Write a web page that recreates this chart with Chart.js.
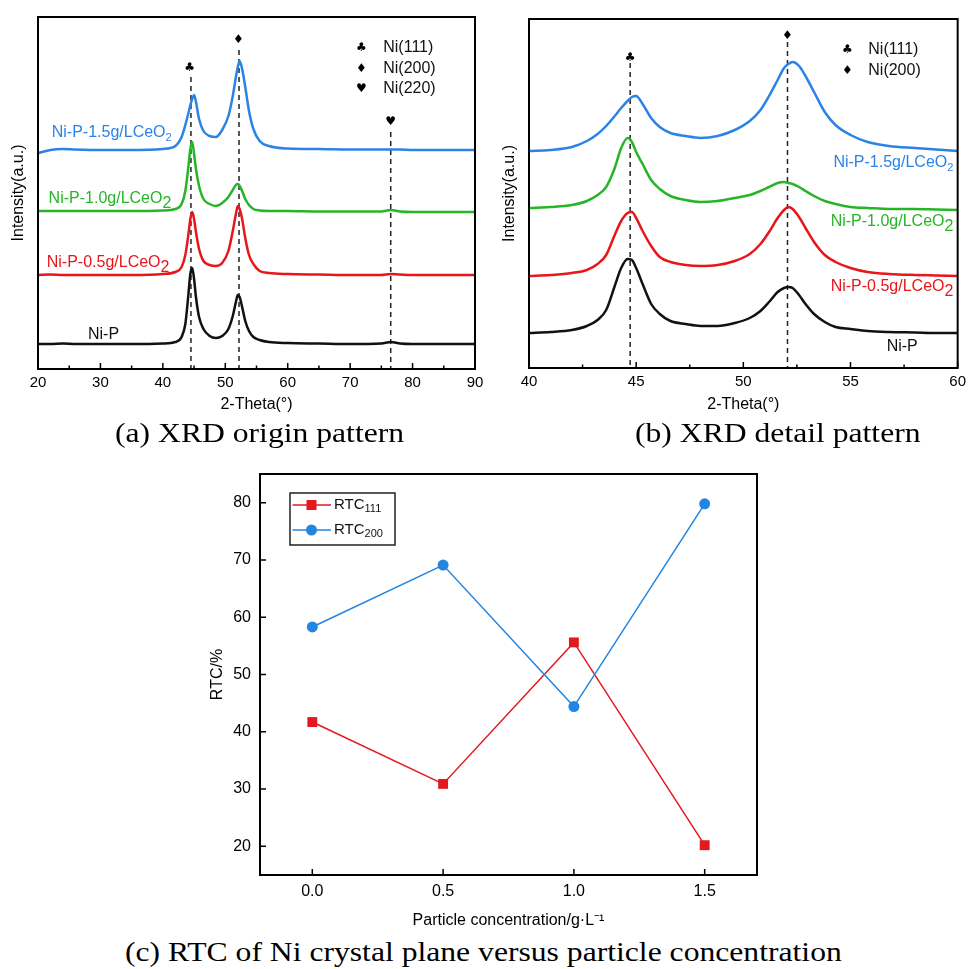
<!DOCTYPE html>
<html>
<head>
<meta charset="utf-8">
<script src="https://cdn.jsdelivr.net/npm/chart.js@4.4.1/dist/chart.umd.min.js"></script>
<style>
  html, body { margin: 0; padding: 0; background: #fff; }
  body { width: 971px; height: 969px; position: relative; overflow: hidden; }
  .panel { position: absolute; }
  .caption {
    position: absolute;
    font-family: 'Liberation Serif', 'Times New Roman', serif;
    font-size: 28px;
    line-height: 28px;
    white-space: nowrap;
    color: #000;
    transform: scaleX(1.13);
    transform-origin: left top;
  }
</style>
</head>
<body>
<div class="panel" style="left:0;top:0;width:490px;height:425px"><canvas id="chartA"></canvas></div>
<div class="panel" style="left:490px;top:0;width:481px;height:425px"><canvas id="chartB"></canvas></div>
<div class="panel" style="left:150px;top:455px;width:620px;height:480px"><canvas id="chartC"></canvas></div>
<div class="caption" style="left:115px;top:419px">(a) XRD origin pattern</div>
<div class="caption" style="left:635px;top:419px">(b) XRD detail pattern</div>
<div class="caption" style="left:125px;top:938px">(c) RTC of Ni crystal plane versus particle concentration</div>

<script>
// ---- (a) full scan, 2-theta 20..90 (intensity in arbitrary units, offset per sample) ----
const thetaA = [20, 22, 24, 26, 30, 35, 40, 42, 43, 43.6, 44.1, 44.4, 44.7, 45.0, 45.3, 45.8, 46.5, 47.5, 48.5, 49.5,
  50.5, 51.2, 51.7, 52.0, 52.3, 52.7, 53.2, 53.8, 54.5, 55.5, 57, 60, 65, 70, 75, 76.5, 78, 80, 85, 90];
const niPA = [25, 25, 25.5, 25, 25, 25, 25.5, 27, 32, 45, 75, 95, 101, 90, 72, 52, 40, 33, 31, 33,
  40, 53, 67, 74, 72, 62, 48, 38, 32, 29, 27, 26, 25.5, 25, 25.5, 27, 25.5, 25, 25, 25];
const ni05A = [94, 94.5, 94, 94, 94, 94, 95, 97, 102, 114, 135, 150, 157, 150, 137, 120, 108, 104, 103, 106,
  118, 138, 155, 163, 160, 150, 131, 114, 105, 98, 96, 95, 94.5, 94, 94, 95, 94.5, 94, 94, 94];
const ni10A = [158, 158, 158, 158, 158, 158, 158.5, 160, 165, 178, 203, 220, 227, 215, 200, 183, 170, 165, 163, 166,
  172, 179, 184, 185, 183, 178, 170, 164, 160, 158.5, 158, 158, 157.5, 157.5, 157.5, 159, 157.5, 157, 157, 157];
const ni15A = [216, 219, 220, 219.5, 219, 219, 220, 223, 232, 244, 256, 264, 270, 274, 267, 250, 238, 233, 232, 239,
  253, 273, 292, 302, 308, 300, 282, 258, 240, 228, 223, 220.5, 220, 219.5, 219.5, 219.5, 219.5, 219, 219, 219];
const ticksA = [20, 30, 40, 50, 60, 70, 80, 90];
const minorTicksA = [25, 35, 45, 55, 65, 75, 85];
const peaksA = [44.5, 52.2, 76.5];
const peakTopsA = [292, 319, 237];
const symbolsA = ['\u2663', '\u2666', '\u2665'];
const symbolPosA = [[44.3, 301], [52.1, 329], [76.5, 247]];
const legendA = ['Ni(111)', 'Ni(200)', 'Ni(220)'];
const legendRowsA = [321, 300, 280];

// ---- (b) detail scan, 2-theta 40..60 ----
const thetaB = [40, 41, 42, 42.7, 43.2, 43.6, 44.0, 44.3, 44.6, 44.8, 45.0, 45.3, 45.7, 46.1, 46.6, 47.3, 48, 48.8, 49.6, 50.3,
  50.8, 51.2, 51.6, 51.9, 52.1, 52.3, 52.6, 52.9, 53.3, 53.8, 54.3, 55, 55.8, 56.8, 58, 59, 60];
const niPB = [35, 36, 38, 42, 48, 58, 82, 100, 109, 108, 100, 84, 64, 54, 47, 44, 42, 42, 45, 50,
  57, 66, 76, 80, 81, 80, 73, 64, 54, 46, 41, 39, 37, 36, 35.5, 35, 35];
const ni05B = [92, 93, 95, 98, 104, 113, 133, 147, 155, 156, 150, 137, 122, 111, 106, 103, 102, 103, 107, 114,
  124, 136, 150, 158, 161, 159, 151, 140, 126, 113, 106, 100, 96, 94, 93, 92.5, 92];
const ni10B = [160, 161, 163, 167, 173, 181, 200, 220, 230, 226, 216, 204, 188, 179, 172, 168, 166, 167, 170, 173,
  177, 181, 185, 186, 185, 184, 181, 177, 172, 167, 164, 161, 160, 159, 159, 158.5, 158];
const ni15B = [217, 218, 221, 227, 234, 242, 252, 260, 267, 271, 272, 264, 250, 241, 235, 232, 230, 232, 238, 247,
  258, 272, 288, 300, 304, 306, 302, 292, 276, 256, 243, 233, 226, 222, 220, 218.5, 217];
const ticksB = [40, 45, 50, 55, 60];
const minorTicksB = [42.5, 47.5, 52.5, 57.5];
const peaksB = [44.72, 52.06];
const peakTopsB = [305, 326];
const symbolsB = ['\u2663', '\u2666'];
const symbolPosB = [[44.72, 310], [52.06, 332]];
const legendB = ['Ni(111)', 'Ni(200)'];
const legendRowsB = [318, 297];

const sampleNames = ['Ni-P', 'Ni-P-0.5g/LCeO', 'Ni-P-1.0g/LCeO', 'Ni-P-1.5g/LCeO'];
const sampleSubs = ['', '2', '2', '2'];
const sampleColors = ['#111111', '#e8161b', '#26b526', '#2b83e6'];
const labelPosA = [[28.0, 34], [21.4, 106], [21.7, 170], [22.2, 236]];
const labelPosB = [[58.14, 21], [59.8, 81], [59.8, 146], [59.8, 205]];

// ---- (c) RTC vs particle concentration ----
const concC = [0.0, 0.5, 1.0, 1.5];
const rtc111 = [41.7, 30.9, 55.6, 20.2];
const rtc200 = [58.3, 69.1, 44.4, 79.8];
const xTicksC = [0.0, 0.5, 1.0, 1.5];
const yTicksC = [20, 30, 40, 50, 60, 70, 80];

const SANS = "'Liberation Sans', Arial, sans-serif";
Chart.defaults.font.family = SANS;
Chart.defaults.color = '#000';

function drawText(ctx, text, sub, x, y, opt) {
  ctx.font = `${opt.size}px ${SANS}`;
  const w = ctx.measureText(text).width;
  ctx.font = `${opt.subSize}px ${SANS}`;
  const sw = sub ? ctx.measureText(sub).width : 0;
  const start = opt.align === 'right' ? x - w - sw : x;
  ctx.fillStyle = opt.color;
  ctx.textAlign = 'left';
  ctx.textBaseline = 'middle';
  ctx.font = `${opt.size}px ${SANS}`;
  ctx.fillText(text, start, y);
  if (sub) {
    ctx.font = `${opt.subSize}px ${SANS}`;
    ctx.fillText(sub, start + w, y + opt.subDy);
  }
}

function drawFrameTicks(chart, major, minor, majorLen, minorLen) {
  const { ctx, chartArea: a, scales: { x } } = chart;
  ctx.save();
  ctx.strokeStyle = '#000';
  ctx.lineWidth = 1.5;
  ctx.beginPath();
  major.forEach((v) => {
    const px = x.getPixelForValue(v);
    ctx.moveTo(px, a.bottom);
    ctx.lineTo(px, a.bottom - majorLen);
  });
  minor.forEach((v) => {
    const px = x.getPixelForValue(v);
    ctx.moveTo(px, a.bottom);
    ctx.lineTo(px, a.bottom - minorLen);
  });
  ctx.stroke();
  ctx.lineWidth = 2;
  ctx.strokeRect(a.left, a.top, a.right - a.left, a.bottom - a.top);
  ctx.restore();
}

function xrdPlugin(cfg) {
  return {
    id: 'xrdDecor',
    beforeDatasetsDraw(chart) {
      const { ctx, scales: { x, y } } = chart;
      ctx.save();
      ctx.strokeStyle = '#222';
      ctx.lineWidth = 1.5;
      ctx.setLineDash([5, 4]);
      cfg.peaks.forEach((p, i) => {
        ctx.beginPath();
        ctx.moveTo(x.getPixelForValue(p), y.getPixelForValue(cfg.peakTops[i]));
        ctx.lineTo(x.getPixelForValue(p), y.getPixelForValue(0));
        ctx.stroke();
      });
      ctx.restore();
    },
    afterDraw(chart) {
      const { ctx, scales: { x, y } } = chart;
      drawFrameTicks(chart, cfg.ticks, cfg.minorTicks, 6, 3.5);
      ctx.save();
      ctx.fillStyle = '#000';
      ctx.textAlign = 'center';
      ctx.textBaseline = 'middle';
      ctx.font = "12px 'DejaVu Sans', sans-serif";
      cfg.symbols.forEach((s, i) => {
        ctx.fillText(s, x.getPixelForValue(cfg.symbolPos[i][0]), y.getPixelForValue(cfg.symbolPos[i][1]));
      });
      cfg.legend.forEach((t, i) => {
        ctx.font = "12px 'DejaVu Sans', sans-serif";
        ctx.textAlign = 'center';
        ctx.fillStyle = '#000';
        ctx.fillText(cfg.symbols[i], x.getPixelForValue(cfg.legendSymX), y.getPixelForValue(cfg.legendRows[i]));
        drawText(ctx, t, '', x.getPixelForValue(cfg.legendTextX), y.getPixelForValue(cfg.legendRows[i]),
          { size: 16, subSize: 12, subDy: 0, color: '#111', align: 'left' });
      });
      sampleNames.forEach((name, i) => {
        const [lx, ly] = cfg.labelPos[i];
        const big = i === 1 || i === 2;
        drawText(ctx, name, sampleSubs[i], x.getPixelForValue(lx), y.getPixelForValue(ly), {
          size: 16, subSize: big ? 16 : 11, subDy: 5, color: sampleColors[i], align: cfg.labelAlign,
        });
      });
      ctx.restore();
    },
  };
}

function xrdChart(id, cfg) {
  const series = [cfg.niP, cfg.ni05, cfg.ni10, cfg.ni15];
  return new Chart(document.getElementById(id), {
    type: 'line',
    data: {
      datasets: series.map((values, k) => ({
        label: sampleNames[k],
        data: cfg.theta.map((t, i) => ({ x: t, y: values[i] })),
        borderColor: sampleColors[k],
        borderWidth: 2.5,
        pointRadius: 0,
        cubicInterpolationMode: 'monotone',
        fill: false,
      })),
    },
    options: {
      responsive: true,
      maintainAspectRatio: false,
      animation: false,
      layout: { padding: { top: cfg.padTop, right: cfg.padRight, left: 0, bottom: 0 } },
      plugins: { legend: { display: false }, tooltip: { enabled: false } },
      scales: {
        x: {
          type: 'linear',
          min: cfg.ticks[0],
          max: cfg.ticks[cfg.ticks.length - 1],
          afterBuildTicks(scale) { scale.ticks = cfg.ticks.map((v) => ({ value: v })); },
          afterFit(scale) { scale.height = cfg.xHeight; },
          grid: { display: false, drawTicks: false },
          border: { display: false },
          ticks: { font: { size: 15 }, color: '#000', padding: 5, maxRotation: 0, autoSkip: false },
          title: { display: true, text: '2-Theta(°)', font: { size: 16 }, color: '#000', padding: { top: 0, bottom: 10.4 } },
        },
        y: {
          type: 'linear',
          min: 0,
          max: cfg.yMax,
          ticks: { display: false },
          grid: { display: false, drawTicks: false },
          border: { display: false },
          afterFit(scale) { scale.width = cfg.yWidth; },
          title: { display: true, text: 'Intensity(a.u.)', font: { size: 16 }, color: '#000', padding: { top: cfg.yTitlePad, bottom: 0 } },
        },
      },
    },
    plugins: [xrdPlugin(cfg)],
  });
}

xrdChart('chartA', {
  theta: thetaA, niP: niPA, ni05: ni05A, ni10: ni10A, ni15: ni15A,
  ticks: ticksA, minorTicks: minorTicksA, yMax: 352,
  peaks: peaksA, peakTops: peakTopsA, symbols: symbolsA, symbolPos: symbolPosA,
  legend: legendA, legendRows: legendRowsA, legendSymX: 71.8, legendTextX: 75.3,
  labelPos: labelPosA, labelAlign: 'left',
  padTop: 17, padRight: 15, yWidth: 38, xHeight: 56, yTitlePad: 9,
});

xrdChart('chartB', {
  theta: thetaB, niP: niPB, ni05: ni05B, ni10: ni10B, ni15: ni15B,
  ticks: ticksB, minorTicks: minorTicksB, yMax: 349,
  peaks: peaksB, peakTops: peakTopsB, symbols: symbolsB, symbolPos: symbolPosB,
  legend: legendB, legendRows: legendRowsB, legendSymX: 54.85, legendTextX: 55.83,
  labelPos: labelPosB, labelAlign: 'right',
  padTop: 19, padRight: 9, yWidth: 39, xHeight: 57, yTitlePad: 10.4,
});

// ---- panel (c) ----
const RED = '#e4191e';
const BLUE = '#2285e0';

const rtcDecor = {
  id: 'rtcDecor',
  afterDraw(chart) {
    const { ctx, chartArea: a, scales: { x, y } } = chart;
    ctx.save();
    ctx.strokeStyle = '#000';
    ctx.lineWidth = 1.5;
    ctx.beginPath();
    xTicksC.forEach((v) => {
      const px = x.getPixelForValue(v);
      ctx.moveTo(px, a.bottom);
      ctx.lineTo(px, a.bottom - 6);
    });
    yTicksC.forEach((v) => {
      const py = y.getPixelForValue(v);
      ctx.moveTo(a.left, py);
      ctx.lineTo(a.left + 6, py);
    });
    ctx.stroke();
    ctx.lineWidth = 2;
    ctx.strokeRect(a.left, a.top, a.right - a.left, a.bottom - a.top);

    // legend box
    const lx = a.left + 30;
    const ly = a.top + 19;
    ctx.lineWidth = 1.5;
    ctx.strokeStyle = '#222';
    ctx.strokeRect(lx, ly, 105, 52);
    const rows = [
      { color: RED, style: 'rect', sub: '111', dy: 12 },
      { color: BLUE, style: 'circle', sub: '200', dy: 37 },
    ];
    rows.forEach((r) => {
      const ry = ly + r.dy;
      ctx.strokeStyle = r.color;
      ctx.lineWidth = 1.5;
      ctx.beginPath();
      ctx.moveTo(lx + 2.5, ry);
      ctx.lineTo(lx + 41, ry);
      ctx.stroke();
      ctx.fillStyle = r.color;
      if (r.style === 'rect') {
        ctx.fillRect(lx + 21.5 - 5, ry - 5, 10, 10);
      } else {
        ctx.beginPath();
        ctx.arc(lx + 21.5, ry, 5.5, 0, Math.PI * 2);
        ctx.fill();
      }
      drawText(ctx, 'RTC', r.sub, lx + 44, ry, { size: 15, subSize: 11, subDy: 4, color: '#111', align: 'left' });
    });
    ctx.restore();
  },
};

new Chart(document.getElementById('chartC'), {
  type: 'line',
  data: {
    datasets: [
      {
        label: 'RTC200',
        data: concC.map((c, i) => ({ x: c, y: rtc200[i] })),
        borderColor: BLUE,
        backgroundColor: BLUE,
        borderWidth: 1.5,
        pointStyle: 'circle',
        pointRadius: 5.5,
        pointBorderWidth: 0,
        tension: 0,
      },
      {
        label: 'RTC111',
        data: concC.map((c, i) => ({ x: c, y: rtc111[i] })),
        borderColor: RED,
        backgroundColor: RED,
        borderWidth: 1.5,
        pointStyle: 'rect',
        pointRadius: 7,
        pointBorderWidth: 0,
        tension: 0,
      },
    ],
  },
  options: {
    responsive: true,
    maintainAspectRatio: false,
    animation: false,
    layout: { padding: { top: 19, right: 13, left: 0, bottom: 0 } },
    plugins: { legend: { display: false }, tooltip: { enabled: false } },
    scales: {
      x: {
        type: 'linear',
        min: -0.2,
        max: 1.7,
        afterBuildTicks(scale) { scale.ticks = xTicksC.map((v) => ({ value: v })); },
        afterFit(scale) { scale.height = 60; },
        grid: { display: false, drawTicks: false },
        border: { display: false },
        ticks: { font: { size: 16 }, color: '#000', padding: 7, maxRotation: 0, autoSkip: false, callback: (v) => Number(v).toFixed(1) },
        title: { display: true, text: 'Particle concentration/g·L⁻¹', font: { size: 16 }, color: '#000', padding: { top: 0, bottom: 5 } },
      },
      y: {
        type: 'linear',
        min: 15,
        max: 85,
        afterBuildTicks(scale) { scale.ticks = yTicksC.map((v) => ({ value: v })); },
        afterFit(scale) { scale.width = 110; },
        grid: { display: false, drawTicks: false },
        border: { display: false },
        ticks: { font: { size: 16 }, color: '#000', padding: 9 },
        title: { display: true, text: 'RTC/%', font: { size: 16 }, color: '#000', padding: { top: 58.4, bottom: 0 } },
      },
    },
  },
  plugins: [rtcDecor],
});
</script>
</body>
</html>
